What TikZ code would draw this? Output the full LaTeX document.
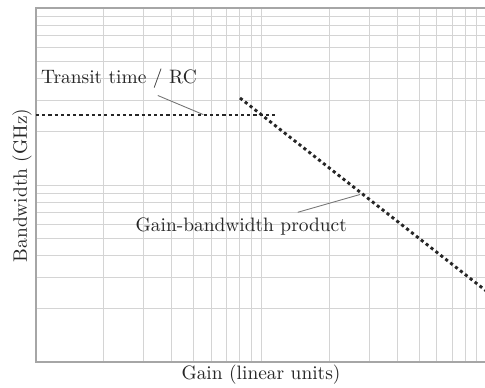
\documentclass[tikz,border=0pt]{standalone}
\begin{document}
\begin{tikzpicture}[x=0.515pt,y=-0.515pt,
  gridline/.style={draw=black!17,line width=0.5pt},
  frameline/.style={draw=black!35,line width=0.6pt},
  asymptote/.style={draw=black!85,line width=1.5pt,dash pattern=on 1.6pt off 1.6pt},
  pointer/.style={draw=black!55,line width=0.45pt},
  lbl/.style={text=black!85,font=\fontsize{10}{12}\selectfont,inner sep=0pt}]
\clip (0,0) rectangle (485,388);
% vertical grid (log x, decade = 225.5 px from x=36)
\foreach \d in {0,1}{
  \foreach \k in {2,...,10}{
    \pgfmathsetmacro{\xx}{36+225.5*(\d+ln(\k)/ln(10))}
    \draw[gridline] (\xx,8) -- (\xx,362);
  }
}
% horizontal grid (log y, decade = 177 px from y=362)
\foreach \d in {0,1}{
  \foreach \k in {2,...,9}{
    \pgfmathsetmacro{\yy}{362-177*(\d+ln(\k)/ln(10))}
    \draw[gridline] (36,\yy) -- (490,\yy);
  }
}
\draw[gridline] (36,185) -- (490,185);
% frame
\draw[frameline] (490,8) -- (36,8) -- (36,362) -- (490,362);
% asymptotes
\coordinate (hA) at (36,115);
\coordinate (hB) at (278,115);
\coordinate (gA) at (240,98);
\coordinate (gB) at (487,291.6);
\draw[asymptote] (hA) -- (hB);
\draw[asymptote] (gA) -- (gB);
% labels
\node[lbl,anchor=west] (tr) at (40.7,79) {Transit time / RC};
\node[lbl] (gbw) at (241.3,226.7) {Gain-bandwidth product};
\node[lbl] (xl) at (261,375) {Gain (linear units)};
\node[lbl,rotate=90] (yl) at (22,185.4) {Bandwidth (GHz)};
% pointers
\coordinate (p1) at (157.8,95.5);
\coordinate (p1e) at (203.3,114.6);
\coordinate (p2) at (297.7,212.3);
\coordinate (p2e) at (360,194.5);
\draw[pointer] (p1) -- (p1e);
\draw[pointer] (p2) -- (p2e);
\end{tikzpicture}
\end{document}
